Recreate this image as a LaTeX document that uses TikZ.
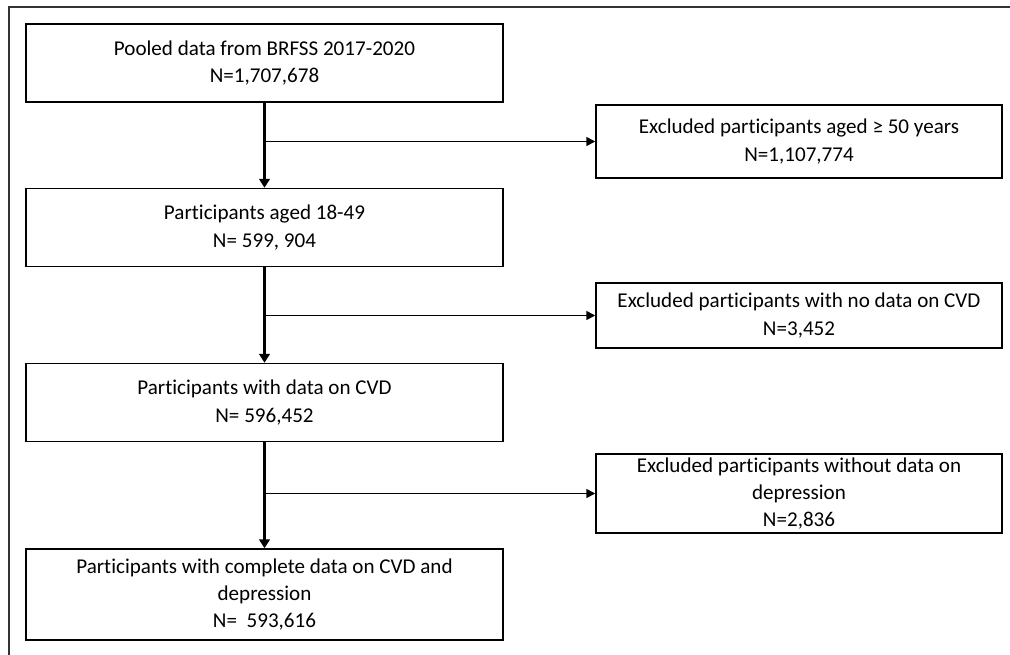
\documentclass[tikz,border=0pt]{standalone}
\usepackage{fontspec}
\setmainfont[Ligatures=NoCommon]{Carlito}
\usetikzlibrary{arrows.meta,calc}
\tikzset{%
  mainbox/.style={draw,line width=0.9pt,minimum width=9.54cm,minimum height=1.56cm,
    align=center,inner sep=2pt,font=\fontsize{12}{15.5}\selectfont},
  exclbox/.style={draw,line width=0.9pt,minimum width=8.12cm,minimum height=1.46cm,
    align=center,inner sep=2pt,font=\fontsize{12}{15.5}\selectfont},
  flow/.style={line width=1.3pt,-{Triangle[length=5pt,width=6pt]}},
  side/.style={line width=0.9pt,-{Triangle[length=5pt,width=5pt]}},
  frameline/.style={line width=1pt,black!80},
}

\begin{document}
\begin{tikzpicture}[x=0.02cm,y=-0.02cm]
  \useasboundingbox (0,0) rectangle (1010,655);
  % outer frame (top and left only)
  \draw[frameline] (1010,7) -- (9,7) -- (9,655);
  % main column
  \node[mainbox] (pooled) at (264.5,63) {Pooled data from BRFSS 2017-2020\\N=1,707,678};
  \node[mainbox] (aged) at (264.5,227.5) {Participants aged 18-49\\N= 599, 904};
  \node[mainbox] (cvd) at (264.5,402.5) {Participants with data on CVD\\N= 596,452};
  \node[mainbox,minimum height=1.82cm] (final) at (264.5,594.5)
    {Participants with complete data on CVD and\\depression\\N=\ \ 593,616};
  % excluded
  \node[exclbox] (exage) at (799,141.5) {Excluded participants aged ≥ 50 years\\N=1,107,774};
  \node[exclbox,minimum height=1.30cm] (excvd) at (799,315.5)
    {Excluded participants with no data on CVD\\N=3,452};
  \node[exclbox] (exdep) at (799,493.5)
    {Excluded participants without data on\\depression\\N=2,836};
  % branch points
  \coordinate (b1) at (pooled.south |- exage.west);
  \coordinate (b2) at (aged.south |- excvd.west);
  \coordinate (b3) at (cvd.south |- exdep.west);
  \draw[flow] (pooled) -- (aged);
  \draw[flow] (aged) -- (cvd);
  \draw[flow] (cvd) -- (final);
  \draw[side] (b1) -- (exage);
  \draw[side] (b2) -- (excvd);
  \draw[side] (b3) -- (exdep);
\end{tikzpicture}
\end{document}
